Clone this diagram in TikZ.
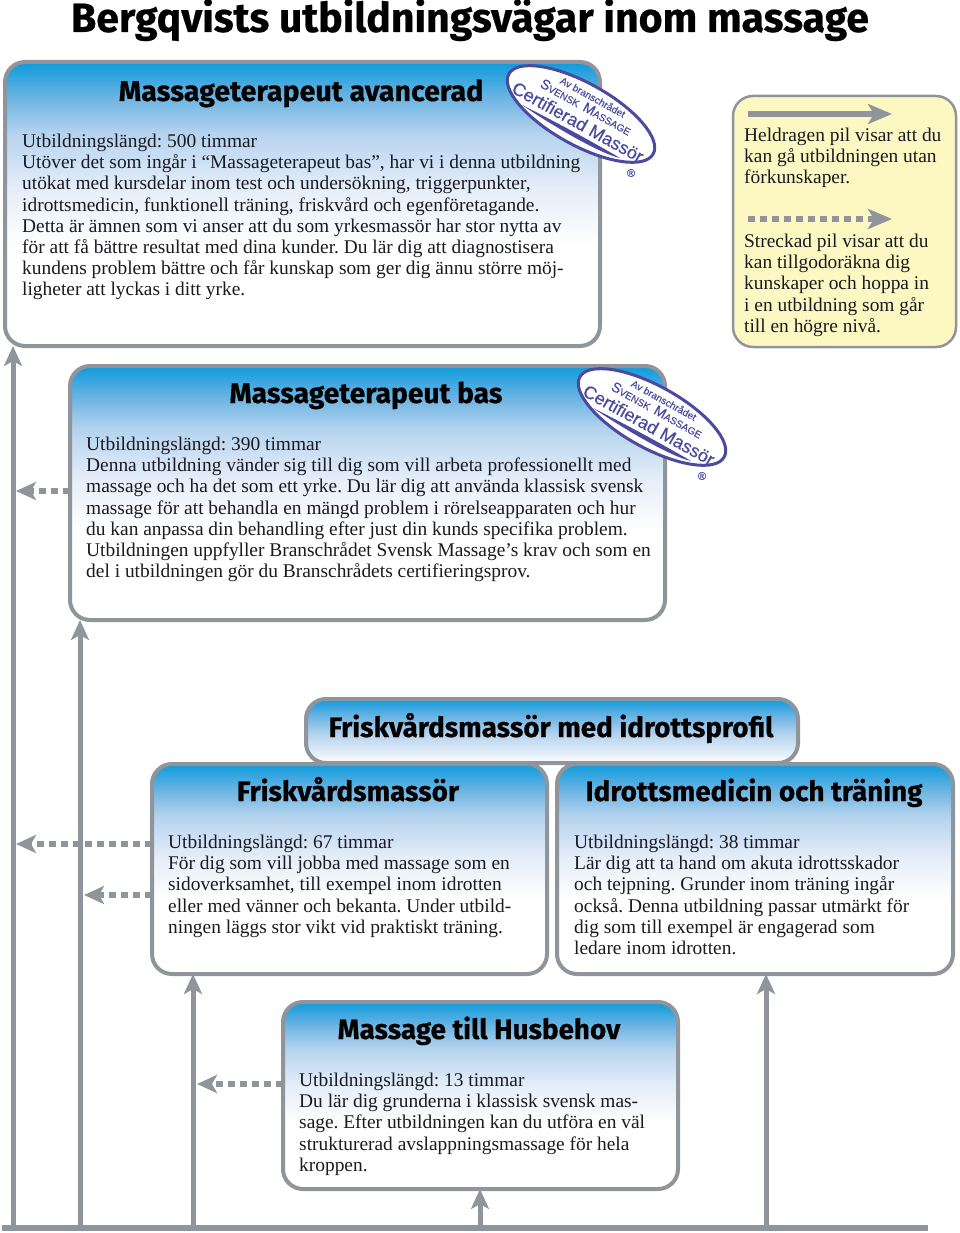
\documentclass[tikz,border=0pt]{standalone}
\usepackage{fontspec}
\setmainfont{Liberation Serif}
\newfontfamily\headfont{Fira Sans}[UprightFont=* Bold,FakeBold=0.5]
\newfontfamily\stampfont{Liberation Sans}[FakeBold=0.3]
\usetikzlibrary{shapes.geometric,arrows.meta}
\definecolor{linegrey}{HTML}{8F959A}
\definecolor{stamppurple}{HTML}{4B4A9E}
\definecolor{legendfill}{HTML}{FDF8C2}
\definecolor{bodyink}{HTML}{1A1A22}
\definecolor{gA}{HTML}{0E9BDC}
\definecolor{gB}{HTML}{6FB5E3}
\definecolor{gC}{HTML}{B5D3EE}
\definecolor{gD}{HTML}{E6EEF9}
% a path's bounding box maps to the 25bp-75bp band of a shading
\pgfdeclareverticalshading{gradbig}{100bp}{color(0bp)=(white); color(25bp)=(white); color(42.5bp)=(white); color(52.5bp)=(gD); color(62.5bp)=(gC); color(68.5bp)=(gB); color(75bp)=(gA); color(100bp)=(gA)}
\pgfdeclareverticalshading{gradsmall}{100bp}{color(0bp)=(white); color(25bp)=(white); color(32.5bp)=(gD); color(47.5bp)=(gC); color(61bp)=(gB); color(75bp)=(gA); color(100bp)=(gA)}
\tikzset{
  gradbox/.style={draw=linegrey,line width=4pt,rounded corners=20pt,shading=gradbig,anchor=north west,inner sep=0pt,outer sep=0pt},
  stripbox/.style={gradbox,shading=gradsmall},
  legendbox/.style={draw=linegrey,line width=2.5pt,rounded corners=20pt,fill=legendfill,anchor=north west,inner sep=0pt,outer sep=0pt},
  headtext/.style={font=\headfont\fontsize{#1}{30}\selectfont,text=black,inner sep=0pt,anchor=base},
  headtext/.default=27.8,
  bodytext/.style={font=\fontsize{19.4}{21.15}\selectfont\frenchspacing,text=bodyink,align=left,anchor=north west,inner sep=0pt},
  route/.style={draw=linegrey,line width=5pt,-{Stealth[length=20pt,width=18pt,inset=5pt]}},
  dashroute/.style={route,line width=6pt,dash pattern=on 7pt off 5pt},
  legendroute/.style={draw=linegrey,line width=6pt,-{Stealth[length=24pt,width=20pt,inset=6pt]}},
  legenddash/.style={legendroute,dash pattern=on 7pt off 5pt},
  stampring/.style={ellipse,draw=stamppurple,line width=3pt,fill=white,minimum width=165pt,minimum height=62pt,inner sep=0pt,outer sep=0pt,rotate=-29},
  stamptext/.style={text=stamppurple,inner sep=0pt,rotate=-29,font=\stampfont},
}
\newcommand{\stampmark}[3]{%
\begin{scope}[shift={(#1,#2)}]
  \node[stampring] (ring#3) at (0,0) {};
  \fill[stamppurple] (-59,-9) .. controls (-35,3) and (5,24) .. (39,44) .. controls (20,40) and (-25,14) .. (-59,-9) -- cycle;
  \node[stamptext,font=\stampfont\fontsize{18}{20}\selectfont] (cert#3) at (-3,8) {Certifierad Massör};
  \node[stamptext,font=\stampfont\fontsize{10}{12}\selectfont] (sm#3) at (5,-7) {{\fontsize{14}{14}\selectfont S}VENSK\ \ {\fontsize{14}{14}\selectfont M}ASSAGE};
  \node[stamptext,font=\stampfont\fontsize{10}{12}\selectfont] (av#3) at (12,-17) {Av branschrådet};
  \node[text=stamppurple,inner sep=0pt,font=\stampfont\fontsize{11}{12}\selectfont] (reg#3) at (50,59) {®};
\end{scope}}
\begin{document}
\begin{tikzpicture}[x=1pt,y=-1pt]
\useasboundingbox (0,0) rectangle (960,1233);
\node[font=\headfont\fontsize{41}{44}\selectfont,inner sep=0pt,anchor=base] (title) at (470,32) {Bergqvists utbildningsvägar inom massage};

% boxes
\node[gradbox,minimum width=595pt,minimum height=284pt] (avancerad) at (5,62) {};
\node[gradbox,minimum width=595pt,minimum height=254pt] (bas) at (70,366) {};
\node[stripbox,minimum width=492pt,minimum height=64pt] (profil) at (306,699) {};
\node[gradbox,minimum width=395pt,minimum height=210pt] (frisk) at (152,764) {};
\node[gradbox,minimum width=396pt,minimum height=210pt] (idrott) at (557,764) {};
\node[gradbox,minimum width=395pt,minimum height=187pt] (husbehov) at (283,1002) {};
\node[legendbox,minimum width=223pt,minimum height=251pt] (legend) at (733,96) {};

% headings
\node[headtext=28.6] (h1) at (301,101) {Massageterapeut avancerad};
\node[headtext=28.2] (h2) at (366,403) {Massageterapeut bas};
\node[headtext] (h3) at (551,737) {Friskvårdsmassör med idrottsprofil};
\node[headtext] (h4) at (348,801) {Friskvårdsmassör};
\node[headtext] (h5) at (754,801) {Idrottsmedicin och träning};
\node[headtext] (h6) at (479,1039) {Massage till Husbehov};

% body texts
\node[bodytext] (t1) at (22,134) {Utbildningslängd: 500 timmar\\
Utöver det som ingår i “Massageterapeut bas”, har vi i denna utbildning\\
utökat med kursdelar inom test och undersökning, triggerpunkter,\\
idrottsmedicin, funktionell träning, friskvård och egenföretagande.\\
Detta är ämnen som vi anser att du som yrkesmassör har stor nytta av\\
för att få bättre resultat med dina kunder. Du lär dig att diagnostisera\\
kundens problem bättre och får kunskap som ger dig ännu större möj-\\
ligheter att lyckas i ditt yrke.};
\node[bodytext] (t2) at (86,437) {Utbildningslängd: 390 timmar\\
Denna utbildning vänder sig till dig som vill arbeta professionellt med\\
massage och ha det som ett yrke. Du lär dig att använda klassisk svensk\\
massage för att behandla en mängd problem i rörelseapparaten och hur\\
du kan anpassa din behandling efter just din kunds specifika problem.\\
Utbildningen uppfyller Branschrådet Svensk Massage’s krav och som en\\
del i utbildningen gör du Branschrådets certifieringsprov.};
\node[bodytext] (t4) at (168,835) {Utbildningslängd: 67 timmar\\
För dig som vill jobba med massage som en\\
sidoverksamhet, till exempel inom idrotten\\
eller med vänner och bekanta. Under utbild-\\
ningen läggs stor vikt vid praktiskt träning.};
\node[bodytext] (t5) at (574,835) {Utbildningslängd: 38 timmar\\
Lär dig att ta hand om akuta idrottsskador\\
och tejpning. Grunder inom träning ingår\\
också. Denna utbildning passar utmärkt för\\
dig som till exempel är engagerad som\\
ledare inom idrotten.};
\node[bodytext] (t6) at (299,1073) {Utbildningslängd: 13 timmar\\
Du lär dig grunderna i klassisk svensk mas-\\
sage. Efter utbildningen kan du utföra en väl\\
strukturerad avslappningsmassage för hela\\
kroppen.};
\node[bodytext] (l1) at (744,128) {Heldragen pil visar att du\\
kan gå utbildningen utan\\
förkunskaper.};
\node[bodytext] (l2) at (744,234) {Streckad pil visar att du\\
kan tillgodoräkna dig\\
kunskaper och hoppa in\\
i en utbildning som går\\
till en högre nivå.};

% stamps
\stampmark{581}{114}{a}
\stampmark{652}{417}{b}

% legend arrows
\coordinate (ls1) at (748,114); \coordinate (le1) at (892,114);
\coordinate (ls2) at (748,219); \coordinate (le2) at (892,219);
\draw[legendroute] (ls1) -- (le1);
\draw[legenddash] (ls2) -- (le2);

% base line and routes
\coordinate (barL) at (2,1228); \coordinate (barR) at (928,1228);
\coordinate (r1) at (13,1228); \coordinate (r2) at (80,1228);
\coordinate (r3) at (193,1228); \coordinate (r4) at (480,1228);
\coordinate (r5) at (766,1228);
\draw[route] (r1) -- (r1 |- avancerad.south);
\draw[route] (r2) -- (r2 |- bas.south);
\draw[route] (r3) -- (r3 |- frisk.south);
\draw[route] (r4) -- (r4 |- husbehov.south);
\draw[route] (r5) -- (r5 |- idrott.south);
\draw[draw=linegrey,line width=6.5pt] (barL) -- (barR);

% dashed routes
\coordinate (d1) at (16,491); \coordinate (d2) at (16,844);
\coordinate (d3) at (84,895); \coordinate (d4) at (197,1084);
\draw[dashroute] (bas.west |- d1) -- (d1);
\draw[dashroute] (frisk.west |- d2) -- (d2);
\draw[dashroute] (frisk.west |- d3) -- (d3);
\draw[dashroute] (husbehov.west |- d4) -- (d4);
\end{tikzpicture}
\end{document}
